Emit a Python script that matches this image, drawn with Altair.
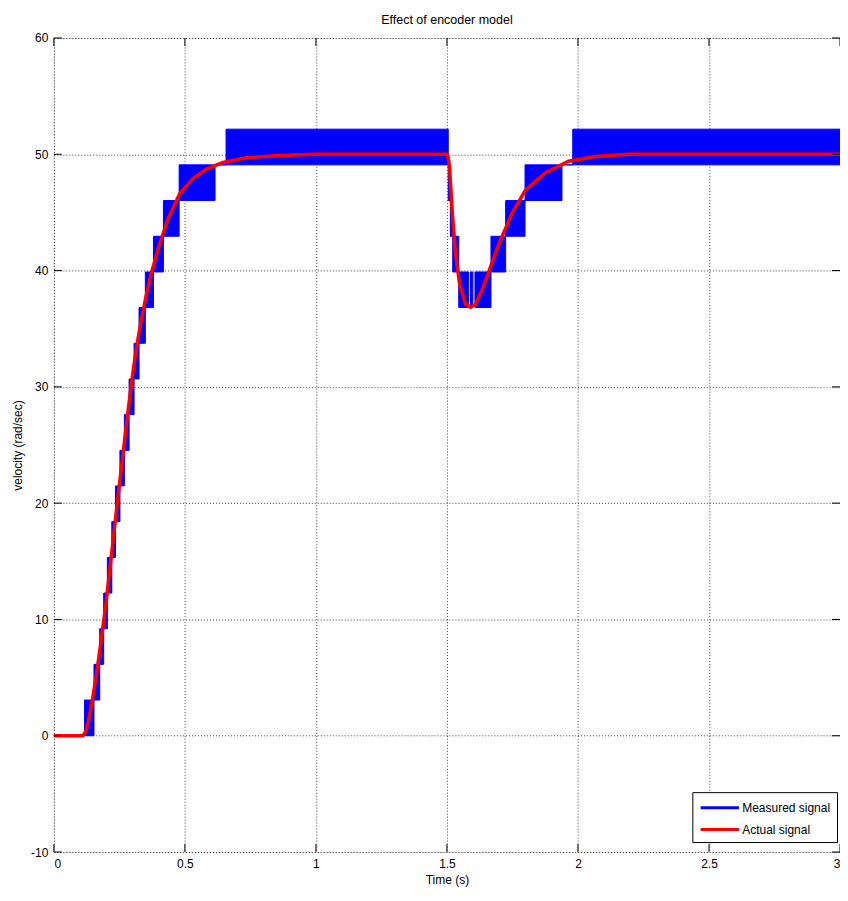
import altair as alt
import pandas as pd

# Encoder quantisation levels (rad/sec)
levels = [0, 3.07, 6.14, 9.20, 12.27, 15.34, 18.41, 21.48, 24.54, 27.61,
          30.68, 33.75, 36.82, 39.88, 42.95, 46.02, 49.09, 52.16]

# Measured signal: bands where the encoder output dithers between two levels
band_start = [0.000, 0.117, 0.153, 0.175, 0.190, 0.204, 0.221, 0.235, 0.252, 0.269,
              0.287, 0.306, 0.325, 0.349, 0.380, 0.418, 0.478, 0.615, 0.657,
              1.505, 1.513, 1.522, 1.545, 1.590, 1.607, 1.668, 1.724, 1.798, 1.939, 1.980]
band_end = [0.117, 0.153, 0.175, 0.190, 0.204, 0.221, 0.235, 0.252, 0.269, 0.287,
            0.306, 0.325, 0.349, 0.380, 0.418, 0.478, 0.615, 0.657, 1.505,
            1.513, 1.522, 1.545, 1.583, 1.599, 1.668, 1.724, 1.798, 1.939, 1.980, 3.000]
band_low = [0, 0, 3.07, 6.14, 9.20, 12.27, 15.34, 18.41, 21.48, 24.54,
            27.61, 30.68, 33.75, 36.82, 39.88, 42.95, 46.02, 49.09, 49.09,
            46.02, 42.95, 39.88, 36.82, 36.82, 36.82, 39.88, 42.95, 46.02, 49.09, 49.09]
band_high = [0, 3.07, 6.14, 9.20, 12.27, 15.34, 18.41, 21.48, 24.54, 27.61,
             30.68, 33.75, 36.82, 39.88, 42.95, 46.02, 49.09, 49.09, 52.16,
             49.09, 46.02, 42.95, 39.88, 39.88, 39.88, 42.95, 46.02, 49.09, 49.09, 52.16]

# Actual signal
actual_t = [0.000, 0.110, 0.120, 0.130, 0.140, 0.150, 0.162, 0.175, 0.188, 0.200,
            0.215, 0.230, 0.245, 0.260, 0.275, 0.290, 0.305, 0.320, 0.335, 0.350,
            0.372, 0.404, 0.435, 0.480, 0.530, 0.581, 0.645, 0.733, 0.860, 1.000,
            1.500, 1.505, 1.510, 1.520, 1.533, 1.548, 1.571, 1.590, 1.609, 1.634,
            1.666, 1.704, 1.748, 1.799, 1.875, 1.964, 2.066, 2.193, 2.350, 2.600, 3.000]
actual_v = [0.0, 0.0, 0.3, 1.0, 2.2, 3.5, 5.2, 7.3, 9.5, 11.6,
            14.6, 17.6, 20.6, 23.5, 26.4, 29.2, 31.8, 34.0, 35.9, 37.6,
            39.8, 42.3, 44.4, 46.6, 47.9, 48.7, 49.3, 49.7, 49.9, 50.0,
            50.0, 49.7, 48.9, 45.1, 41.4, 38.9, 37.1, 36.85, 37.1, 38.3,
            40.3, 42.6, 44.9, 46.9, 48.4, 49.4, 49.8, 50.0, 50.0, 50.0, 50.0]

series_names = ["Measured signal", "Actual signal"]
series_colors = ["#0000ff", "#ff0000"]
x_ticks = [0, 0.5, 1, 1.5, 2, 2.5, 3]
y_ticks = [-10, 0, 10, 20, 30, 40, 50, 60]

W, H = 788, 816
FONT = "Liberation Sans"

bands = pd.DataFrame({"t0": band_start, "t1": band_end, "lo": band_low,
                      "hi": band_high, "series": series_names[0]})
actual = pd.DataFrame({"t": actual_t, "v": actual_v, "series": series_names[1]})
xt = pd.DataFrame({"v": x_ticks})
yt = pd.DataFrame({"v": y_ticks})

xs = alt.Scale(domain=[0, 3], nice=False, zero=False)
ys = alt.Scale(domain=[-10, 60], nice=False, zero=False)
cs = alt.Scale(domain=series_names, range=series_colors)

grid_kw = dict(grid=True, gridDash=[1, 2], gridColor="#000000", gridOpacity=0.75,
               gridWidth=1, tickSize=0, domain=False, labelFont=FONT,
               labelFontSize=12, labelColor="#000000", titleFont=FONT,
               titleFontSize=12, titleFontWeight="normal", titleColor="#000000",
               labelExpr="'' + datum.value")

xaxis = alt.Axis(values=x_ticks, title="Time (s)", labelPadding=7,
                 titleX=W / 2, titleY=28, titleBaseline="middle", **grid_kw)
yaxis = alt.Axis(values=y_ticks, title="velocity (rad/sec)", labelPadding=6,
                 titleX=-36, titleY=H / 2, titleAngle=-90, titleAlign="center",
                 titleBaseline="middle", **grid_kw)

legend = alt.Legend(orient="none", legendX=640, legendY=756, title=None,
                    strokeColor="#000000", fillColor="#ffffff", padding=6,
                    symbolType="M-2.4,0L2.4,0", symbolStrokeWidth=3, symbolSize=256,
                    symbolOffset=12,
                    labelFont=FONT, labelFontSize=12, labelColor="#000000",
                    rowPadding=6, labelOffset=13)

meas = alt.Chart(bands).mark_rect(fill="#0000ff", strokeWidth=1).encode(
    x=alt.X("t0:Q", scale=xs, axis=xaxis),
    x2="t1:Q",
    y=alt.Y("lo:Q", scale=ys, axis=yaxis),
    y2="hi:Q",
    stroke=alt.Stroke("series:N", scale=cs, legend=legend),
)

act = alt.Chart(actual).mark_line(strokeWidth=3.5).encode(
    x=alt.X("t:Q", scale=xs),
    y=alt.Y("v:Q", scale=ys),
    stroke=alt.Stroke("series:N", scale=cs, legend=legend),
)

TL = 8
tick_style = dict(color="#000000", strokeWidth=1)
xb = alt.Chart(xt).mark_rule(**tick_style).encode(
    x=alt.X("v:Q", scale=xs), y=alt.value(H), y2=alt.value(H - TL))
xtop = alt.Chart(xt).mark_rule(**tick_style).encode(
    x=alt.X("v:Q", scale=xs), y=alt.value(0), y2=alt.value(TL))
yl = alt.Chart(yt).mark_rule(**tick_style).encode(
    y=alt.Y("v:Q", scale=ys), x=alt.value(0), x2=alt.value(TL))
yr = alt.Chart(yt).mark_rule(**tick_style).encode(
    y=alt.Y("v:Q", scale=ys), x=alt.value(W), x2=alt.value(W - TL))

chart = alt.layer(meas, act, xb, xtop, yl, yr).properties(
    width=W, height=H,
    title=alt.TitleParams("Effect of encoder model", font=FONT, fontSize=12.5,
                          fontWeight="normal", color="#000000", anchor="middle",
                          offset=6),
    autosize=alt.AutoSizeParams(type="none"),
    padding={"left": 46, "top": 29, "right": 0, "bottom": 35},
).configure_view(stroke="#000000", strokeWidth=1.2).configure(background="#ffffff")

chart.save("out.html", embed_options={"renderer": "svg", "actions": False})
